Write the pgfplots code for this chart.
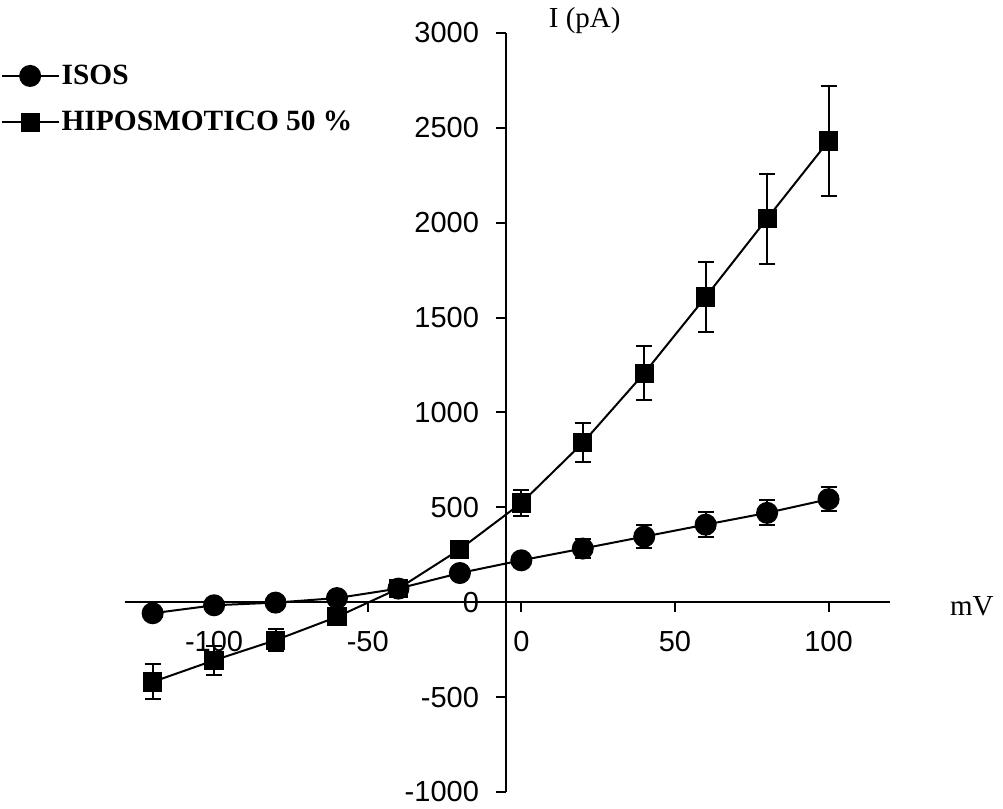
\documentclass[border=0pt]{standalone}
\usepackage{fontspec}
\setmainfont{Liberation Serif}
\newfontfamily\arial{Liberation Sans}
\usepackage{pgfplots}
\pgfplotsset{compat=1.18}
\begin{document}
\begin{tikzpicture}[x=1pt,y=1pt]
\useasboundingbox (0,0) rectangle (501.5,404.5);
\begin{axis}[
 at={(62.5pt,8.5pt)}, anchor=south west,
 scale only axis, width=382.5pt, height=379.5pt,
 xmin=-129, xmax=120, ymin=-1000, ymax=3000,
 axis x line=middle, axis y line=none,
 axis line style={-, line width=1.2pt},
 xtick={-100,-50,0,50,100}, ytick=\empty,
 tick align=outside, major tick length=5pt,
 tick style={line width=1pt, black},
 hide obscured x ticks=false,
 xticklabel style={font=\arial\fontsize{14.5}{17}\selectfont, yshift=-6pt},
 /pgf/number format/assume math mode=true,
 /pgf/number format/1000 sep={},
 clip=false,
 legend style={at={(-0.163,0.964)}, anchor=north west, draw=none, fill=none,
   inner sep=0pt, font=\bfseries\fontsize{14.7}{17}\selectfont, row sep=8pt,
   nodes={inner xsep=1pt}},
 legend cell align=left,
 legend image code/.code={\draw[mark repeat=2,mark phase=2] plot coordinates {(0cm,0cm) (0.5cm,0cm) (1.0cm,0cm)};},
]
\addplot[black, line width=1pt, mark=*, mark size=5pt, mark options={fill=black, solid},
  error bars/.cd, y dir=both, y explicit,
  error bar style={line width=1pt, black},
  error mark options={rotate=90, mark size=4pt, line width=1pt, black}]
 coordinates {
 (-120,-58) +- (0,15)
 (-100,-16) +- (0,15)
 (-80,-2) +- (0,15)
 (-60,22) +- (0,15)
 (-40,72) +- (0,20)
 (-20,154) +- (0,25)
 (0,221) +- (0,35)
 (20,283) +- (0,50)
 (40,346) +- (0,60)
 (60,409) +- (0,65)
 (80,471) +- (0,66)
 (100,543) +- (0,62)
 };
\addlegendentry{ISOS}
\addplot[black, line width=1pt, mark=square*, mark size=4.3pt, mark options={fill=black, solid},
  error bars/.cd, y dir=both, y explicit,
  error bar style={line width=1pt, black},
  error mark options={rotate=90, mark size=4pt, line width=1pt, black}]
 coordinates {
 (-120,-420) +- (0,92)
 (-100,-306) +- (0,75)
 (-80,-200) +- (0,57)
 (-60,-77) +- (0,35)
 (-40,72) +- (0,25)
 (-20,279) +- (0,30)
 (0,523) +- (0,66)
 (20,840) +- (0,103)
 (40,1207) +- (0,143)
 (60,1609) +- (0,186)
 (80,2022) +- (0,237)
 (100,2431) +- (0,291)
 };
\addlegendentry{HIPOSMOTICO 50 \%}
\end{axis}
\begin{axis}[
 at={(62.5pt,8.5pt)}, anchor=south west,
 scale only axis, width=382.5pt, height=379.5pt,
 xmin=-124, xmax=125, ymin=-1000, ymax=3000,
 axis x line=none, axis y line=middle,
 axis line style={-, line width=1.2pt},
 ytick={-1000,-500,...,3000}, xtick=\empty,
 tick align=outside, major tick length=5pt,
 tick style={line width=1pt, black},
 hide obscured y ticks=false,
 yticklabel style={font=\arial\fontsize{14.5}{17}\selectfont, xshift=-5pt},
 /pgf/number format/assume math mode=true,
 /pgf/number format/1000 sep={},
 clip=false,
]
\node[font=\fontsize{14.5}{17}\selectfont] at (rel axis cs:0.601,1.016) {I (pA)};
\node[font=\fontsize{14.5}{17}\selectfont] at (rel axis cs:1.107,0.245) {mV};
\end{axis}
\end{tikzpicture}
\end{document}
